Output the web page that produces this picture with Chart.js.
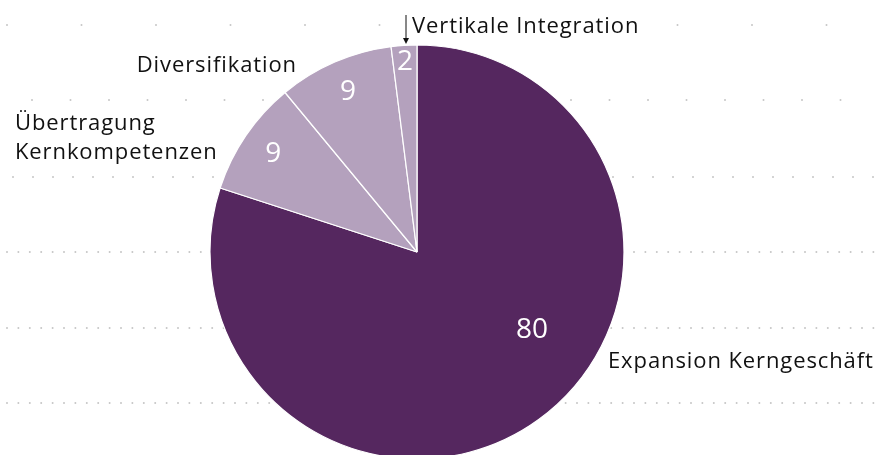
<!DOCTYPE html>
<html>
<head>
<meta charset="utf-8">
<script src="https://cdn.jsdelivr.net/npm/chart.js@4"></script>
<style>
  html, body { margin: 0; padding: 0; background: #fff; overflow: hidden; }
  #wrap { width: 878px; height: 455px; position: relative; }
</style>
</head>
<body>
<div id="wrap"><canvas id="pieChart"></canvas></div>
<script>
// data
const categories = ['Expansion Kerngeschäft', 'Übertragung Kernkompetenzen', 'Diversifikation', 'Vertikale Integration'];
const shares = [80, 9, 9, 2];
const sliceColors = ['#55275f', '#b4a1bd', '#b4a1bd', '#b4a1bd'];

// label layout (relative to pie centre)
const valuePos = [
  { dAng: -20, r: 0.67 },
  { dAng: 0, r: 0.84 },
  { dAng: 0, r: 0.84 },
  { dAng: 0, r: 0.92 }
];
const namePos = [
  { lines: ['Expansion Kerngeschäft'], dx: 191, dy: 110, align: 'left' },
  { lines: ['Übertragung', 'Kernkompetenzen'], dx: -402, dy: -128, align: 'left' },
  { lines: ['Diversifikation'], dx: -120, dy: -186, align: 'right' },
  { lines: ['Vertikale Integration'], dx: -5, dy: -225, align: 'left', arrow: true }
];
// dotted background rows: y, dot spacing, first dot x
const dotRows = [
  [25, 74.5, 7], [100, 38.5, 32], [177, 20, 13],
  [252, 11.4, 7], [328, 11.4, 7], [403, 11.4, 7]
];

const FONT = '"Open Sans", "Noto Sans", sans-serif';

const dotsBg = {
  id: 'dotsBg',
  beforeDraw(chart) {
    const ctx = chart.ctx;
    ctx.save();
    ctx.fillStyle = '#c6c6c6';
    dotRows.forEach(([y, step, x0]) => {
      for (let x = x0; x < chart.width; x += step) {
        ctx.beginPath();
        ctx.arc(x, y, 1, 0, Math.PI * 2);
        ctx.fill();
      }
    });
    ctx.restore();
  }
};

const sliceLabels = {
  id: 'sliceLabels',
  afterDraw(chart) {
    const ctx = chart.ctx;
    const arcs = chart.getDatasetMeta(0).data;
    const cx = arcs[0].x, cy = arcs[0].y, R = arcs[0].outerRadius;
    ctx.save();

    // values inside slices
    ctx.fillStyle = '#fff';
    ctx.font = '28px ' + FONT;
    ctx.textAlign = 'center';
    ctx.textBaseline = 'middle';
    arcs.forEach((a, i) => {
      const mid = (a.startAngle + a.endAngle) / 2 + valuePos[i].dAng * Math.PI / 180;
      const r = R * valuePos[i].r;
      ctx.fillText(String(shares[i]), cx + Math.cos(mid) * r, cy + Math.sin(mid) * r);
    });

    // category names
    ctx.font = '22px ' + FONT;
    ctx.letterSpacing = '0.9px';
    namePos.forEach(p => {
      const lh = 29;
      ctx.textAlign = p.align;
      p.lines.forEach((t, k) => {
        const x = cx + p.dx, y = cy + p.dy + k * lh;
        const w = ctx.measureText(t).width;
        const bx = p.align === 'right' ? x - w : x;
        ctx.fillStyle = '#fff';
        ctx.fillRect(bx - 2, y - 12, w + 4, 24);
        ctx.fillStyle = '#111';
        ctx.fillText(t, x, y);
      });
      if (p.arrow) {
        const ax = cx + p.dx - 6, top = cy + p.dy - 12, tip = cy + p.dy + 17;
        ctx.strokeStyle = '#111';
        ctx.lineWidth = 1;
        ctx.beginPath();
        ctx.moveTo(ax, top);
        ctx.lineTo(ax, tip - 5);
        ctx.stroke();
        ctx.fillStyle = '#111';
        ctx.beginPath();
        ctx.moveTo(ax - 3, tip - 6);
        ctx.lineTo(ax + 3, tip - 6);
        ctx.lineTo(ax, tip);
        ctx.closePath();
        ctx.fill();
      }
    });
    ctx.restore();
  }
};

new Chart(document.getElementById('pieChart').getContext('2d'), {
  type: 'pie',
  data: {
    labels: categories,
    datasets: [{
      data: shares,
      backgroundColor: sliceColors,
      borderColor: '#fff',
      borderWidth: 1.2,
      radius: 207
    }]
  },
  options: {
    responsive: true,
    maintainAspectRatio: false,
    animation: false,
    layout: { padding: { left: 0, right: 44, top: 49, bottom: 0 } },
    plugins: {
      legend: { display: false },
      tooltip: { enabled: false }
    }
  },
  plugins: [dotsBg, sliceLabels]
});
</script>
</body>
</html>
